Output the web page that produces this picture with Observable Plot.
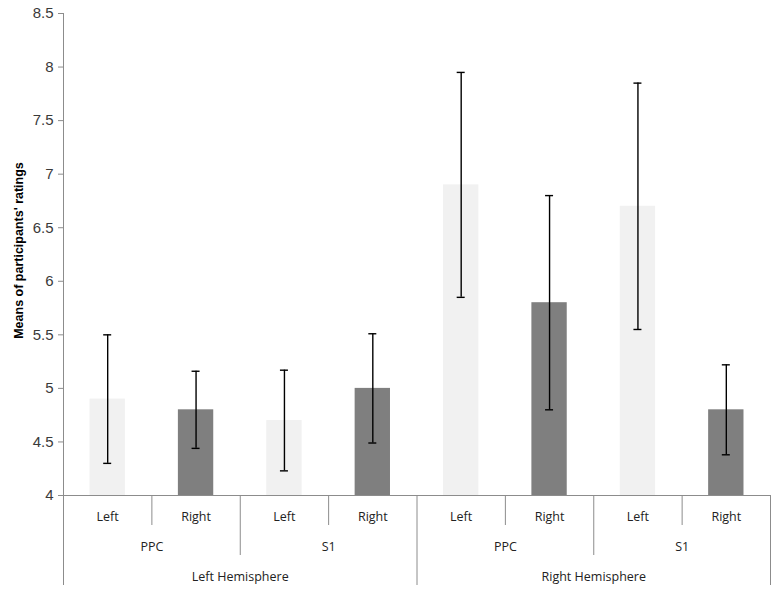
<!DOCTYPE html>
<html><head><meta charset="utf-8">
<script src="https://cdn.jsdelivr.net/npm/d3@7"></script>
<script src="https://cdn.jsdelivr.net/npm/@observablehq/plot@0.6"></script>
<style>body{margin:0;background:#fff}</style>
</head><body><div id="chart"></div>
<script>
const hemispheres = ["Left Hemisphere", "Right Hemisphere"];
const regions = ["PPC", "S1"];
const sides = ["Left", "Right"];
const means = [4.9, 4.8, 4.7, 5.0, 6.9, 5.8, 6.7, 4.8];
const errors = [0.6, 0.36, 0.47, 0.51, 1.05, 1.0, 1.15, 0.42];
const yTicks = [4, 4.5, 5, 5.5, 6, 6.5, 7, 7.5, 8, 8.5];
const yTitle = "Means of participants' ratings";

const W = 775, H = 591, mt = 13, mb = 96, ml = 63, mr = 5;
const pxPerUnitY = (H - mt - mb) / (8.5 - 4);
const below = px => 4 - px / pxPerUnitY;
const pxPerUnitX = (W - ml - mr) / 8;
const capHalf = 4 / pxPerUnitX;

const rows = [];
hemispheres.forEach((h) => regions.forEach((r) => sides.forEach((s) => {
  const i = rows.length;
  rows.push({i, hemisphere: h, region: r, side: s, mean: means[i],
             lo: means[i] - errors[i], up: means[i] + errors[i]});
})));

// hierarchical axis labels
const sideLabels = rows.map(d => ({x: d.i + 0.5, text: d.side, level: 1}));
const regionLabels = [];
hemispheres.forEach((h, hi) => regions.forEach((r, ri) => {
  const k = hi * regions.length + ri;
  regionLabels.push({x: k * sides.length + sides.length / 2, text: r, level: 2});
}));
const hemiLabels = hemispheres.map((h, hi) => ({
  x: hi * regions.length * sides.length + regions.length * sides.length / 2, text: h, level: 3}));
const labels = [...sideLabels, ...regionLabels, ...hemiLabels];

// separators
const seps = [];
const per = regions.length * sides.length;
for (let b = 0; b <= rows.length; b++) {
  let level = 1;
  if (b % sides.length === 0) level = 2;
  if (b % per === 0) level = 3;
  seps.push({x: b, level});
}

const axisGray = "#8c8c8c";
const labelStyle = {x: "x", y: 4, text: "text", fontSize: 12.5,
  fontFamily: "Open Sans, sans-serif", fill: "#222"};

const chart = Plot.plot({
  width: W, height: H,
  marginTop: mt, marginBottom: mb, marginLeft: ml, marginRight: mr,
  style: {fontFamily: "Liberation Sans, Arial, sans-serif", background: "#fff"},
  x: {domain: [0, rows.length], axis: null},
  y: {domain: [4, 8.5]},
  marks: [
    Plot.rectY(rows, {x1: d => d.i + 0.3, x2: d => d.i + 0.7, y1: 4, y2: "mean",
      fill: d => d.side === "Left" ? "#f1f1f1" : "#7f7f7f"}),
    Plot.ruleX(rows, {x: d => d.i + 0.5, y1: "lo", y2: "up", stroke: "#000", strokeWidth: 1.4}),
    Plot.ruleY(rows, {y: "lo", x1: d => d.i + 0.5 - capHalf, x2: d => d.i + 0.5 + capHalf, stroke: "#000", strokeWidth: 1.4}),
    Plot.ruleY(rows, {y: "up", x1: d => d.i + 0.5 - capHalf, x2: d => d.i + 0.5 + capHalf, stroke: "#000", strokeWidth: 1.4}),
    Plot.ruleY([4], {x1: 0, x2: rows.length, stroke: axisGray}),
    Plot.ruleX([0], {y1: below(90), y2: 8.5, stroke: axisGray}),
    Plot.ruleX(seps, {x: "x", y1: 4, y2: d => below(d.level * 30), stroke: axisGray}),
    Plot.axisY({ticks: yTicks, tickFormat: d => String(d), tickSize: 5, tickPadding: 5,
      fontSize: 15, stroke: axisGray, fill: "#3a3a3a", label: null}),
    Plot.text(labels, {...labelStyle, filter: d => d.level === 1, dy: 21}),
    Plot.text(labels, {...labelStyle, filter: d => d.level === 2, dy: 51}),
    Plot.text(labels, {...labelStyle, filter: d => d.level === 3, dy: 81}),
    Plot.text([yTitle], {frameAnchor: "left", textAnchor: "middle", rotate: -90, dx: -45, dy: -4,
      fontWeight: "bold", fontSize: 12.5, fill: "#000"})
  ]
});
document.getElementById("chart").appendChild(chart);
</script>
</body></html>
